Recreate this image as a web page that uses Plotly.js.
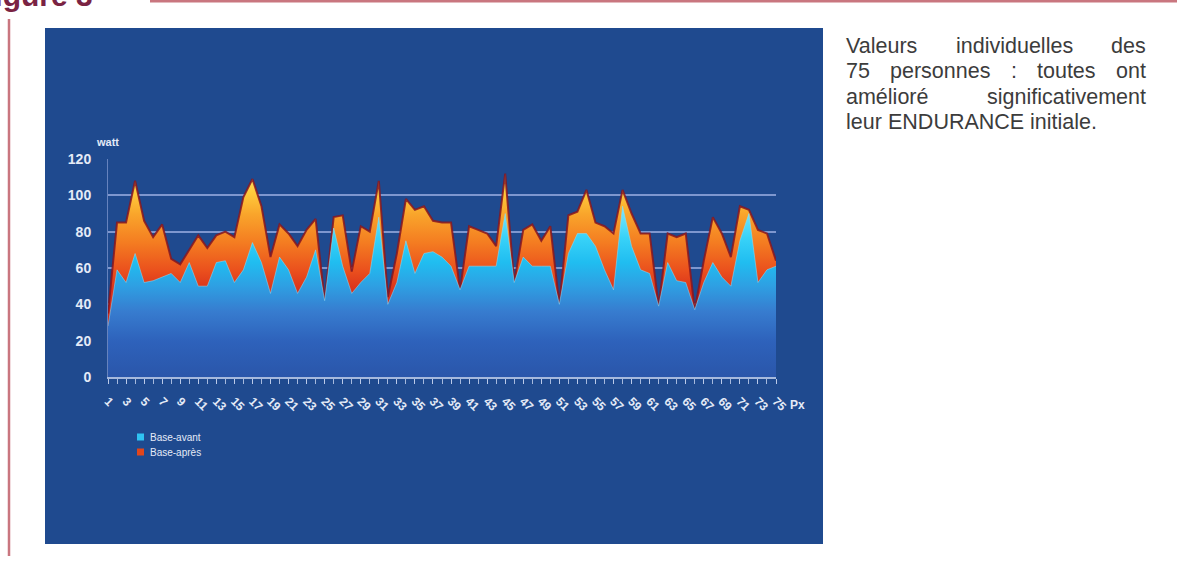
<!DOCTYPE html>
<html><head><meta charset="utf-8">
<script src="https://cdn.plot.ly/plotly-3.0.1.min.js"></script>
<style>html,body{margin:0;padding:0;background:#fff;overflow:hidden}#chart{width:1177px;height:562px}</style>
</head><body><div id="chart"></div>
<script>
// ---- data ----
const persons = [1,2,3,4,5,6,7,8,9,10,11,12,13,14,15,16,17,18,19,20,21,22,23,24,25,26,27,28,29,30,31,32,33,34,35,36,37,38,39,40,41,42,43,44,45,46,47,48,49,50,51,52,53,54,55,56,57,58,59,60,61,62,63,64,65,66,67,68,69,70,71,72,73,74,75];
const tickValues = [1,3,5,7,9,11,13,15,17,19,21,23,25,27,29,31,33,35,37,39,41,43,45,47,49,51,53,55,57,59,61,63,65,67,69,71,73,75];
const tickLabels = ["1","3","5","7","9","11","13","15","17","19","21","23","25","27","29","31","33","35","37","39","41","43","45","47","49","51","53","55","57","59","61","63","65","67","69","71","73","75"];
const baseApres = [35,85,85,108,86,77,84,65,62,70,78,71,78,80,77,99,109,94,66,84,79,72,81,87,42,88,89,58,83,80,108,44,68,98,92,94,86,85,85,48,83,81,79,72,112,52,81,84,75,83,40,89,91,103,85,83,79,103,90,79,79,39,79,77,79,37,64,88,79,66,94,92,81,79,64];
const baseAvant = [28,59,52,68,52,53,55,57,52,63,50,50,63,64,52,59,74,63,46,66,59,46,55,70,42,82,61,46,52,57,88,40,52,75,57,68,69,66,61,48,61,61,61,61,90,52,66,61,61,61,40,68,79,79,72,59,48,94,72,59,57,39,63,53,52,37,52,63,55,50,75,90,52,59,61];
const seriesNames = ["Base-avant","Base-après"];
const seriesColors = ["#2fc3f2","#e2461c"];
const yTitle = "watt";
const xTitle = "Px";
const figureTitle = "Figure 3";
const noteLines = [
  ["Valeurs","individuelles","des"],
  ["75","personnes",":","toutes","ont"],
  ["amélioré","significativement"],
  ["leur","ENDURANCE","initiale."]
];

// ---- geometry helpers (pixel -> paper) ----
const L = 108, R = 776, T = 159, B = 377, W = 1177, H = 562;
const px = v => (v - L) / (R - L);
const py = v => (B - v) / (B - T);

const FONT = "Liberation Sans";
const light = "#e4eaf7";

const traces = [
  {
    x: persons, y: baseApres, type: "scatter", mode: "lines", name: seriesNames[1],
    fill: "tozeroy", showlegend: false,
    line: {color: "rgba(135,22,32,0.85)", width: 2, shape: "linear"},
    fillcolor: "#f08a22",
    fillgradient: {type: "vertical", start: 0, stop: 112,
      colorscale: [[0, "#b81c1a"], [0.42, "#d8301b"], [0.52, "#ea4f1d"], [0.66, "#f47c21"], [0.8, "#f9a52b"], [0.91, "#ffcc3c"], [1, "#ffe46a"]]}
  },
  {
    x: persons, y: baseAvant, type: "scatter", mode: "lines", name: seriesNames[0],
    fill: "tozeroy", showlegend: false,
    line: {color: "rgba(140,225,255,0.5)", width: 1},
    fillcolor: "#2aa8e8",
    fillgradient: {type: "vertical", start: 0, stop: 90,
      colorscale: [[0, "#2a56aa"], [0.22, "#2e62bb"], [0.4, "#377ccf"], [0.56, "#2ea0e3"], [0.7, "#20bdf0"], [0.85, "#38d2f8"], [1, "#6fe4fb"]]}
  }
];

// justified text block
const canvas = document.createElement("canvas");
const ctx = canvas.getContext("2d");
const noteSize = 21.5;
ctx.font = noteSize + "px '" + FONT + "'";
const noteLeft = 846, noteRight = 1146, noteTop = 46, noteStep = 25.5;
const annotations = [];
noteLines.forEach((words, li) => {
  const widths = words.map(w => ctx.measureText(w).width);
  const total = widths.reduce((a, b) => a + b, 0);
  const last = li === noteLines.length - 1;
  const gap = last ? ctx.measureText(" ").width : (noteRight - noteLeft - total) / (words.length - 1);
  let xpos = noteLeft;
  words.forEach((w, wi) => {
    annotations.push({
      text: w, xref: "paper", yref: "paper", x: px(xpos + widths[wi] / 2), y: py(noteTop + li * noteStep),
      xanchor: "center", yanchor: "middle", showarrow: false,
      font: {family: FONT, size: noteSize, color: "#3c3c3c"}
    });
    xpos += widths[wi] + gap;
  });
});

annotations.push({text: yTitle, xref: "paper", yref: "paper", x: px(107), y: py(142), xanchor: "center", yanchor: "middle",
  showarrow: false, font: {family: FONT, size: 11, color: light, weight: "bold"}});
annotations.push({text: xTitle, xref: "paper", yref: "paper", x: px(797), y: py(405), xanchor: "center", yanchor: "middle",
  showarrow: false, font: {family: FONT, size: 12, color: light, weight: "bold"}});
annotations.push({text: "<b>" + figureTitle + "</b>", xref: "paper", yref: "paper", x: px(-26), y: py(-4), xanchor: "left", yanchor: "middle",
  showarrow: false, font: {family: FONT, size: 30, color: "#7a2343"}});

const shapes = [
  {type: "rect", xref: "paper", yref: "paper", x0: px(45), x1: px(823), y0: py(544), y1: py(28),
    fillcolor: "#1f4a8f", line: {width: 0}, layer: "below"},
  {type: "line", xref: "paper", yref: "paper", x0: px(9), x1: px(9), y0: py(19), y1: py(556),
    line: {color: "#c9767f", width: 2.5}},
  {type: "line", xref: "paper", yref: "paper", x0: px(150), x1: px(1177), y0: py(1), y1: py(1),
    line: {color: "#c9767f", width: 3}}
];

// legend drawn as small swatches + text
const legendTop = 437, legendStep = 15;
seriesNames.forEach((n, i) => {
  const cy = legendTop + i * legendStep;
  shapes.push({type: "rect", xref: "paper", yref: "paper", x0: px(137), x1: px(144), y0: py(cy + 3.5), y1: py(cy - 3.5),
    fillcolor: seriesColors[i], line: {width: 0}});
  annotations.push({text: n, xref: "paper", yref: "paper", x: px(148), y: py(cy), xanchor: "left", yanchor: "middle",
    showarrow: false, font: {family: FONT, size: 10, color: light}});
});

const layout = {
  width: W, height: H,
  margin: {l: L, r: W - R, t: T, b: H - B, pad: 0},
  paper_bgcolor: "#ffffff", plot_bgcolor: "rgba(0,0,0,0)",
  showlegend: false,
  xaxis: {
    range: [1, 75], tickmode: "array", tickvals: tickValues, ticktext: tickLabels,
    tickangle: 45, tickfont: {family: FONT, size: 12, color: light, weight: "bold"},
    ticks: "outside", ticklen: 5, tickwidth: 1, tickcolor: "rgba(190,205,235,0.85)", ticklabelstandoff: 6,
    minor: {tickmode: "linear", tick0: 1, dtick: 1, ticks: "outside", ticklen: 5, tickwidth: 1, tickcolor: "rgba(190,205,235,0.85)"},
    showline: true, linecolor: "rgba(190,205,235,0.85)", linewidth: 1.5,
    showgrid: false, zeroline: false, fixedrange: true
  },
  yaxis: {
    range: [0, 120], tickmode: "linear", tick0: 0, dtick: 20,
    tickfont: {family: FONT, size: 14, color: light, weight: "bold"},
    ticks: "", ticklabelstandoff: 13,
    showgrid: true, gridcolor: "rgba(150,170,222,0.8)", gridwidth: 2,
    showline: true, linecolor: "rgba(150,170,222,0.6)", linewidth: 1,
    zeroline: false, fixedrange: true
  },
  shapes: shapes,
  annotations: annotations,
  hovermode: false
};

Plotly.newPlot("chart", traces, layout, {displayModeBar: false, staticPlot: true});
</script>
</body></html>
